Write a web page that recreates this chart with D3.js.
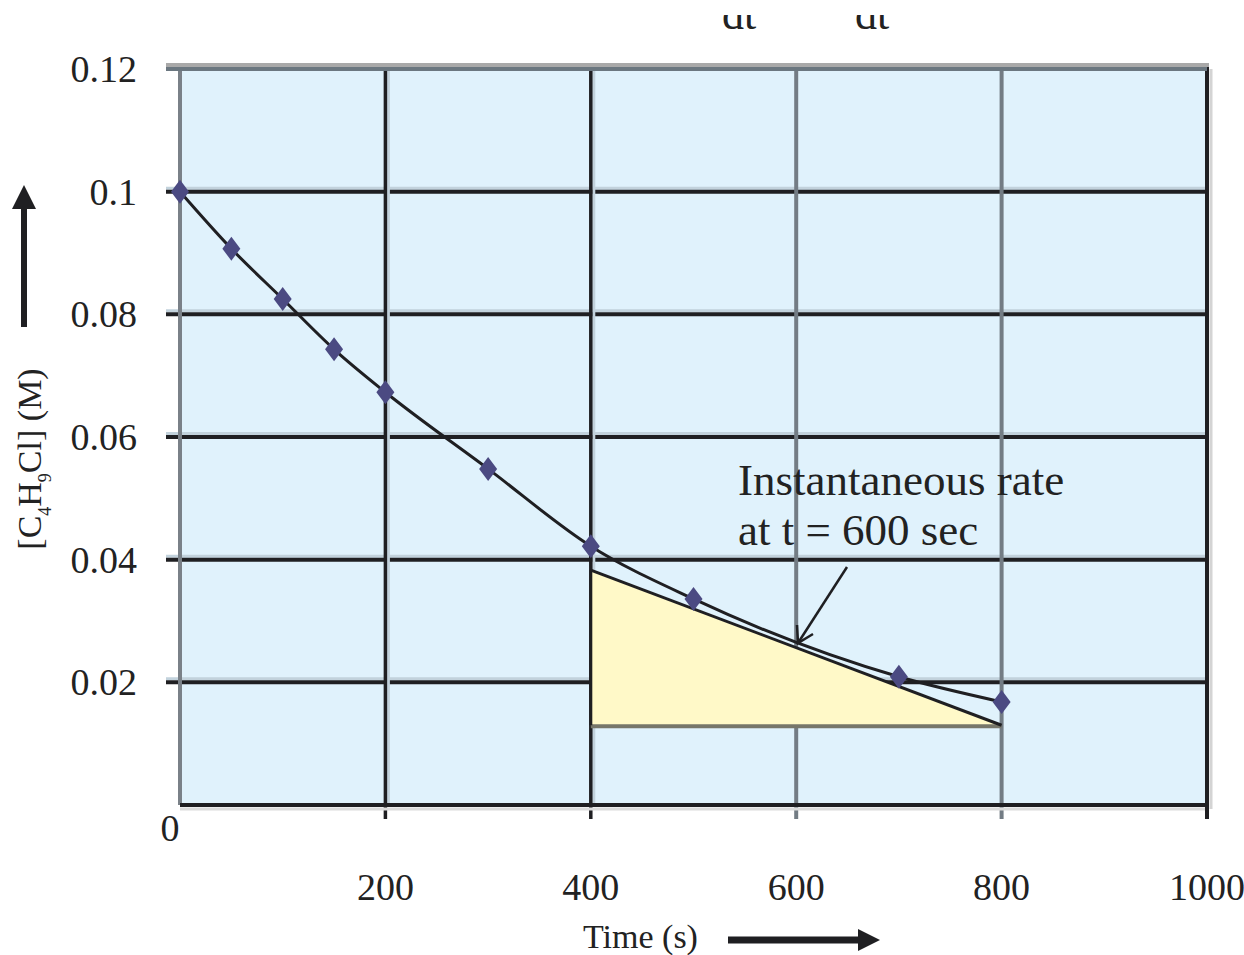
<!DOCTYPE html>
<html>
<head>
<meta charset="utf-8">
<script src="https://cdnjs.cloudflare.com/ajax/libs/d3/7.8.5/d3.min.js"></script>
<style>
  body { margin: 0; background: #fff; }
  text { font-family: "Liberation Serif", "DejaVu Serif", serif; fill: #222; }
</style>
</head>
<body>
<div id="viz"></div>
<script>
// data
let times = [0, 50, 100, 150, 200, 300, 400, 500, 700, 800];
let concs = [0.1, 0.0907, 0.0825, 0.0743, 0.0673, 0.0548, 0.0422, 0.0336, 0.0209, 0.0168];

// tangent at t = 600 s, and the triangle under it
let tangentT = [400, 800];
let tangentC = [0.0383, 0.0130];
let triBase = 0.0130;

let xTicks = [200, 400, 600, 800, 1000];
let yTicks = [0.02, 0.04, 0.06, 0.08, 0.1, 0.12];
let yTickLabels = ["0.02", "0.04", "0.06", "0.08", "0.1", "0.12"];
let darkVertical = [200, 400];   // black grid lines
let lightVertical = [600, 800];  // greyer grid lines

let w = 1244;
let h = 955;

let viz = d3.select("#viz")
  .append("svg")
    .attr("width", w)
    .attr("height", h)
;

let xScale = d3.scaleLinear().domain([0, 1000]).range([180, 1207]);
let yScale = d3.scaleLinear().domain([0, 0.12]).range([805, 69]);

// background
viz.append("rect")
  .attr("x", xScale(0))
  .attr("y", yScale(0.12))
  .attr("width", xScale(1000) - xScale(0))
  .attr("height", yScale(0) - yScale(0.12))
  .attr("fill", "#e0f2fc");

// horizontal grid lines (with a pale shadow above)
let hLines = viz.selectAll(".hgrid").data(yTicks.slice(0, 5)).enter().append("g");
hLines.append("line")
  .attr("x1", 166).attr("x2", xScale(1000))
  .attr("y1", d => yScale(d) - 3.5).attr("y2", d => yScale(d) - 3.5)
  .attr("stroke", "#c2d2dc").attr("stroke-width", 3);
hLines.append("line")
  .attr("x1", 166).attr("x2", xScale(1000))
  .attr("y1", d => yScale(d)).attr("y2", d => yScale(d))
  .attr("stroke", "#1f1f22").attr("stroke-width", 4);

// vertical grid lines
viz.selectAll(".vdark").data(darkVertical).enter().append("line")
  .attr("x1", d => xScale(d) + 3).attr("x2", d => xScale(d) + 3)
  .attr("y1", yScale(0.12)).attr("y2", yScale(0))
  .attr("stroke", "#c2d2dc").attr("stroke-width", 3);
viz.selectAll(".vdark2").data(darkVertical).enter().append("line")
  .attr("x1", d => xScale(d)).attr("x2", d => xScale(d))
  .attr("y1", yScale(0.12)).attr("y2", yScale(0) + 14)
  .attr("stroke", "#1f1f22").attr("stroke-width", 3.5);
viz.selectAll(".vlight").data(lightVertical).enter().append("line")
  .attr("x1", d => xScale(d)).attr("x2", d => xScale(d))
  .attr("y1", yScale(0.12)).attr("y2", yScale(0) + 14)
  .attr("stroke", "#737c84").attr("stroke-width", 4);

// left border
viz.append("line")
  .attr("x1", xScale(0)).attr("x2", xScale(0))
  .attr("y1", yScale(0.12)).attr("y2", yScale(0))
  .attr("stroke", "#7a8188").attr("stroke-width", 4);

// bottom axis
viz.append("line")
  .attr("x1", xScale(0)).attr("x2", xScale(1000) + 2)
  .attr("y1", yScale(0) + 4).attr("y2", yScale(0) + 4)
  .attr("stroke", "#dcdcdc").attr("stroke-width", 3);
viz.append("line")
  .attr("x1", xScale(0)).attr("x2", xScale(1000))
  .attr("y1", yScale(0)).attr("y2", yScale(0))
  .attr("stroke", "#1f1f22").attr("stroke-width", 4);

// right border
viz.append("line")
  .attr("x1", xScale(1000) + 4).attr("x2", xScale(1000) + 4)
  .attr("y1", yScale(0.12)).attr("y2", yScale(0) + 4)
  .attr("stroke", "#d4d4d4").attr("stroke-width", 3);
viz.append("line")
  .attr("x1", xScale(1000)).attr("x2", xScale(1000))
  .attr("y1", yScale(0.12) - 2).attr("y2", yScale(0) + 14)
  .attr("stroke", "#1f1f22").attr("stroke-width", 4);

// top border
viz.append("line")
  .attr("x1", 166).attr("x2", xScale(1000) + 2)
  .attr("y1", yScale(0.12) - 4).attr("y2", yScale(0.12) - 4)
  .attr("stroke", "#a9a9a9").attr("stroke-width", 4);
viz.append("line")
  .attr("x1", 166).attr("x2", xScale(1000))
  .attr("y1", yScale(0.12)).attr("y2", yScale(0.12))
  .attr("stroke", "#6b7780").attr("stroke-width", 4);

// yellow triangle under the tangent
let triPts = [
  [xScale(tangentT[0]), yScale(tangentC[0])],
  [xScale(tangentT[0]), yScale(triBase)],
  [xScale(tangentT[1]), yScale(triBase)]
];
viz.append("path")
  .attr("d", "M" + triPts.join("L") + "Z")
  .attr("fill", "#fff9c8");
viz.append("line")
  .attr("x1", triPts[1][0]).attr("x2", triPts[2][0])
  .attr("y1", triPts[1][1] + 1).attr("y2", triPts[2][1] + 1)
  .attr("stroke", "#76766a").attr("stroke-width", 4);
viz.append("line")
  .attr("x1", triPts[0][0]).attr("x2", triPts[1][0])
  .attr("y1", triPts[0][1]).attr("y2", triPts[1][1])
  .attr("stroke", "#1f1f22").attr("stroke-width", 3);

// tangent line
viz.append("line")
  .attr("x1", xScale(tangentT[0])).attr("y1", yScale(tangentC[0]))
  .attr("x2", xScale(tangentT[1])).attr("y2", yScale(tangentC[1]))
  .attr("stroke", "#1f1f22").attr("stroke-width", 3);

// data curve
let lineMaker = d3.line()
  .x((d, i) => xScale(times[i]))
  .y(d => yScale(d))
  .curve(d3.curveMonotoneX);
viz.append("path")
  .datum(concs)
  .attr("d", lineMaker)
  .attr("fill", "none")
  .attr("stroke", "#1f1f22")
  .attr("stroke-width", 3);

// diamond markers
viz.selectAll(".pt").data(concs).enter().append("path")
  .attr("d", "M0,-12L9,0L0,12L-9,0Z")
  .attr("transform", (d, i) => "translate(" + xScale(times[i]) + "," + yScale(d) + ")")
  .attr("fill", "#4b4a82");

// tick labels
viz.selectAll(".ylab").data(yTicks).enter().append("text")
  .attr("x", 137)
  .attr("y", d => yScale(d) + 13)
  .attr("text-anchor", "end")
  .style("font-size", "38px")
  .text((d, i) => yTickLabels[i]);

viz.selectAll(".xlab").data(xTicks).enter().append("text")
  .attr("x", d => xScale(d))
  .attr("y", 900)
  .attr("text-anchor", "middle")
  .style("font-size", "38px")
  .text(d => d);

viz.append("text")
  .attr("x", 170).attr("y", 841)
  .attr("text-anchor", "middle")
  .style("font-size", "38px")
  .text("0");

// annotation
viz.append("text")
  .attr("x", 738).attr("y", 495)
  .style("font-size", "45px")
  .text("Instantaneous rate");
viz.append("text")
  .attr("x", 738).attr("y", 545)
  .style("font-size", "45px")
  .text("at t = 600 sec");

viz.append("line")
  .attr("x1", 847).attr("y1", 567)
  .attr("x2", 798).attr("y2", 643)
  .attr("stroke", "#1f1f22").attr("stroke-width", 2.5);
viz.append("path")
  .attr("d", "M797,625L798,643L813,634")
  .attr("fill", "none")
  .attr("stroke", "#1f1f22").attr("stroke-width", 2.5);

// axis titles
let yTitle = viz.append("text")
  .attr("transform", "translate(41,459) rotate(-90)")
  .attr("text-anchor", "middle")
  .style("font-size", "34px");
yTitle.append("tspan").text("[C");
yTitle.append("tspan").attr("baseline-shift", "sub").style("font-size", "18px").text("4");
yTitle.append("tspan").text("H");
yTitle.append("tspan").attr("baseline-shift", "sub").style("font-size", "18px").text("9");
yTitle.append("tspan").text("Cl] (M)");

viz.append("line")
  .attr("x1", 24).attr("x2", 24)
  .attr("y1", 327).attr("y2", 205)
  .attr("stroke", "#1f1f22").attr("stroke-width", 6);
viz.append("path")
  .attr("d", "M24,185L36,209L12,209Z")
  .attr("fill", "#1f1f22");

viz.append("text")
  .attr("x", 583).attr("y", 948)
  .style("font-size", "34px")
  .text("Time (s)");
viz.append("line")
  .attr("x1", 728).attr("x2", 862)
  .attr("y1", 940).attr("y2", 940)
  .attr("stroke", "#1f1f22").attr("stroke-width", 7);
viz.append("path")
  .attr("d", "M880,940L858,929L858,951Z")
  .attr("fill", "#1f1f22");

// clipped "dt" fragments at the top edge (only their lower part shows)
viz.selectAll(".dt").data([722, 855]).enter().append("text")
  .attr("x", d => d)
  .attr("y", 29)
  .style("font-size", "44px")
  .text("dt");
viz.append("rect")
  .attr("x", 0).attr("y", 0)
  .attr("width", w).attr("height", 15)
  .attr("fill", "#fff");
</script>
</body>
</html>
